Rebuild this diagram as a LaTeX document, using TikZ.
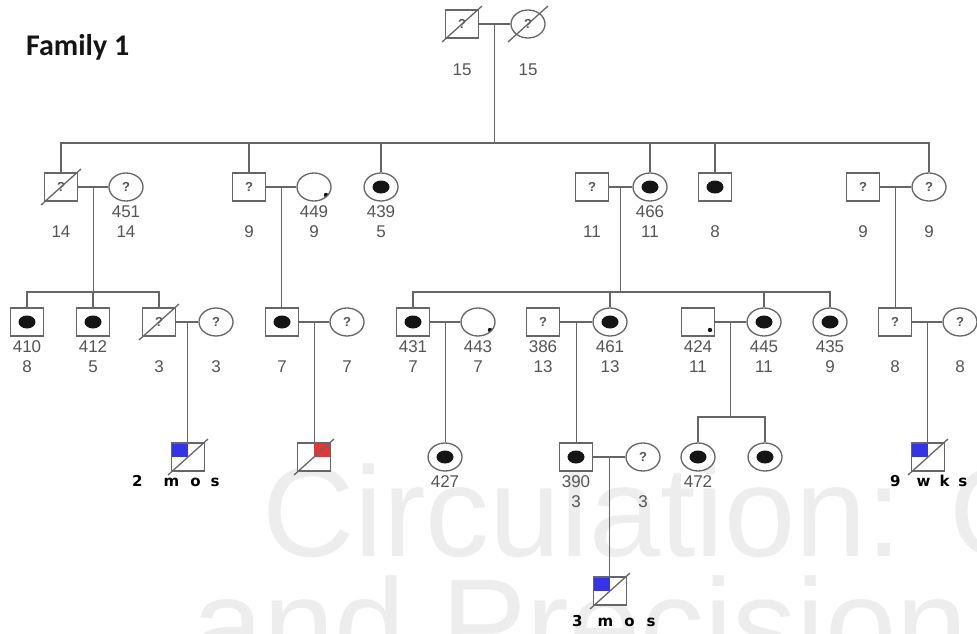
\documentclass[tikz,border=0pt]{standalone}
\usepackage{fontspec}
\setmainfont{Liberation Sans}
\newfontfamily\headfont{Carlito}
\newfontfamily\tagfont{DejaVu Sans}
\usepackage{tikz}
\usetikzlibrary{calc,shapes.geometric}
\definecolor{Line}{HTML}{666666}
\definecolor{Ink}{HTML}{151515}
\definecolor{Muted}{HTML}{555555}
\definecolor{Mark}{HTML}{3434E6}
\definecolor{Alert}{HTML}{E33636}
\definecolor{Water}{HTML}{EDEDED}
\newcommand\deceased[1]{\draw[link] ([shift={(-20pt,-18pt)}]#1.center) -- ([shift={(20pt,18pt)}]#1.center);}

\begin{document}
\begin{tikzpicture}[
  x=1pt,
  y=-1pt,
  link/.style={draw=Line,line width=1.3pt},
  male/.style={rectangle,draw=Line,fill=white,line width=1.3pt,minimum width=33pt,minimum height=28pt,inner sep=0pt,font=\bfseries\fontsize{13}{13}\selectfont,text=Muted},
  female/.style={male,ellipse,minimum width=34pt},
  aff/.style={path picture={\fill[Ink] (path picture bounding box.center) ellipse (8.5pt and 6.5pt);}},
  carrier/.style={path picture={\fill[Ink] ([shift={(12pt,-8pt)}]path picture bounding box.center) circle (2.2pt);}},
  bluebox/.style={path picture={\fill[Mark] (path picture bounding box.north west) rectangle (path picture bounding box.center);}},
  redbox/.style={path picture={\fill[Alert] (path picture bounding box.north east) rectangle (path picture bounding box.center);}},
  tag/.style={font=\fontsize{17}{17}\selectfont,text=Muted,inner sep=0pt},
  dur/.style={font=\tagfont\bfseries\fontsize{15}{15}\selectfont,inner sep=0pt,anchor=west},
  title/.style={font=\headfont\bfseries\fontsize{30}{32}\selectfont,text=Ink,anchor=west,inner sep=0pt},
  water/.style={font=\fontsize{128}{128}\selectfont,text=Water,anchor=base west,inner sep=0pt}
]
  \useasboundingbox (0,0) rectangle (977,634);

  % Watermark
  \begin{scope}
    \clip (0,0) rectangle (977,634);
    \node[water] (wm1) at (262,556) {Circulation: G};
    \node[water] (wm2) at (192,668) {and Precision M};
  \end{scope}

  \node[title] (fam) at (26,47) {Family 1};

  % Generation I
  \node[male] (gf) at (462,24) {?};
  \node[female] (gm) at (528,24) {?};
  \foreach \x [count=\k] in {462,528} \node[tag] (age1-\k) at (\x,70) {15};

  % Generation II
  \node[male] (h451) at (61,187) {?};
  \node[female] (n451) at (126,187) {?};
  \node[male] (h449) at (249,187) {?};
  \node[female,carrier] (n449) at (314,187) {};
  \node[female,aff] (n439) at (381,187) {};
  \node[male] (h466) at (592,187) {?};
  \node[female,aff] (n466) at (650,187) {};
  \node[male,aff] (m8) at (715,187) {};
  \node[male] (h9) at (863,187) {?};
  \node[female] (w9) at (929,187) {?};
  \foreach \x/\t [count=\k] in {126/451,314/449,381/439,650/466} \node[tag] (id2-\k) at (\x,212) {\t};
  \foreach \x/\t [count=\k] in {61/14,126/14,249/9,314/9,381/5,592/11,650/11,715/8,863/9,929/9} \node[tag] (age2-\k) at (\x,232) {\t};

  % Generation III
  \node[male,aff] (n410) at (27,322) {};
  \node[male,aff] (n412) at (93,322) {};
  \node[male] (d3) at (159,322) {?};
  \node[female] (w3) at (216,322) {?};
  \node[male,aff] (m7) at (282,322) {};
  \node[female] (w7) at (347,322) {?};
  \node[male,aff] (n431) at (413,322) {};
  \node[female,carrier] (n443) at (478,322) {};
  \node[male] (n386) at (543,322) {?};
  \node[female,aff] (n461) at (610,322) {};
  \node[male,carrier] (n424) at (698,322) {};
  \node[female,aff] (n445) at (764,322) {};
  \node[female,aff] (n435) at (830,322) {};
  \node[male] (h8) at (895,322) {?};
  \node[female] (w8) at (960,322) {?};
  \foreach \x/\t [count=\k] in {27/410,93/412,413/431,478/443,543/386,610/461,698/424,764/445,830/435} \node[tag] (id3-\k) at (\x,347) {\t};
  \foreach \x/\t [count=\k] in {27/8,93/5,159/3,216/3,282/7,347/7,413/7,478/7,543/13,610/13,698/11,764/11,830/9,895/8,960/8} \node[tag] (age3-\k) at (\x,367) {\t};

  % Generation IV
  \node[male,bluebox] (k2mos) at (188,457) {};
  \node[male,redbox] (kred) at (314,457) {};
  \node[female,aff] (n427) at (445,457) {};
  \node[male,aff] (n390) at (576,457) {};
  \node[female] (w390) at (643,457) {?};
  \node[female,aff] (n472) at (698,457) {};
  \node[female,aff] (t472) at (765,457) {};
  \node[male,bluebox] (k9wks) at (928,457) {};
  \foreach \x/\t [count=\k] in {445/427,576/390,698/472} \node[tag] (id4-\k) at (\x,482) {\t};
  \foreach \x [count=\k] in {576,643} \node[tag] (age4-\k) at (\x,502) {3};
  \node[dur] (t2mos) at (132,481) {2\hspace{21pt}m\hspace{11pt}o\hspace{10pt}s};
  \node[dur] (t9wks) at (890,481) {9\hspace{16pt}w\hspace{9pt}k\hspace{9pt}s};

  % Generation V
  \node[male,bluebox] (k3mos) at (610,591) {};
  \node[dur] (t3mos) at (572,621) {3\hspace{15pt}m\hspace{11pt}o\hspace{12pt}s};

  % Unions and lines of descent
  \foreach \a/\b/\u in {gf/gm/u1,h451/n451/u451,h449/n449/u449,h466/n466/u466,h9/w9/u9,d3/w3/u3,m7/w7/u7,n431/n443/u443,n386/n461/u461,n424/n445/u445,h8/w8/u8,n390/w390/u390}
    {\draw[link] (\a) -- (\b);
     \coordinate (\u) at ($(\a.east)!0.5!(\b.west)$);}
  \foreach \u/\c in {u449/m7,u9/h8,u3/k2mos,u7/kred,u443/n427,u461/n390,u8/k9wks,u390/k3mos}
    \draw[link] (\u) -- (\u |- \c.north);

  % Sibships
  \coordinate (s2) at (0,143);
  \coordinate (s3) at (0,292);
  \coordinate (s4) at (0,417);
  \draw[link] (u1) -- (u1 |- s2);
  \draw[link] (h451.north) -- (h451.north |- s2) -- (w9.north |- s2) -- (w9.north);
  \foreach \c in {h449,n439,n466,m8} \draw[link] (\c.north) -- (\c.north |- s2);
  \draw[link] (u451) -- (u451 |- s3);
  \draw[link] (n410.north) -- (n410.north |- s3) -- (d3.north |- s3) -- (d3.north);
  \draw[link] (n412.north) -- (n412.north |- s3);
  \draw[link] (u466) -- (u466 |- s3);
  \draw[link] (n431.north) -- (n431.north |- s3) -- (n435.north |- s3) -- (n435.north);
  \foreach \c in {n461,n445} \draw[link] (\c.north) -- (\c.north |- s3);
  \draw[link] (u445) -- (u445 |- s4);
  \draw[link] (n472.north) -- (n472.north |- s4) -- (t472.north |- s4) -- (t472.north);

  % Deceased
  \foreach \n in {gf,gm,h451,d3,k2mos,kred,k9wks,k3mos} {\deceased{\n}}
\end{tikzpicture}
\end{document}
